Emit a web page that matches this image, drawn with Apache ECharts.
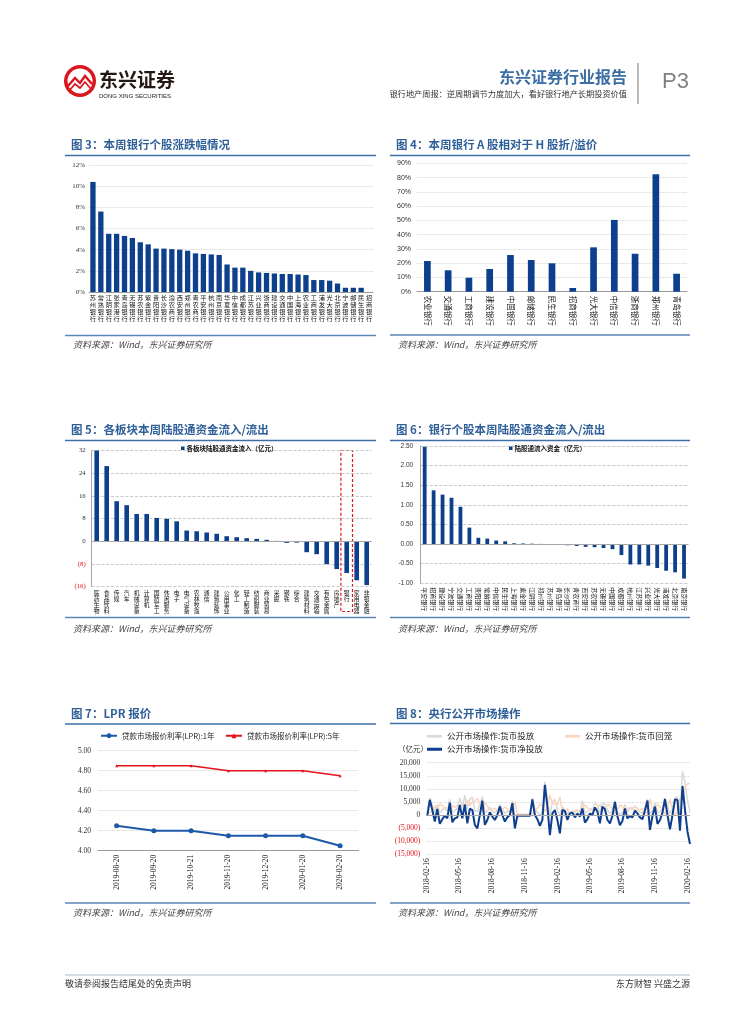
<!DOCTYPE html>
<html><head><meta charset="utf-8">
<script src="https://cdn.jsdelivr.net/npm/echarts@6/dist/echarts.min.js"></script>
<style>html,body{margin:0;padding:0;background:#fff}#c{width:755px;height:1024px}</style>
</head><body><div id="c"></div>
<script>
// ---------- DATA ----------
const fig3Banks = ['苏州银行','常熟银行','江阴银行','张家港行','青岛银行','无锡银行','苏农银行','紫金银行','贵阳银行','长沙银行','渝农商行','西安银行','郑州银行','青农商行','平安银行','杭州银行','南京银行','华夏银行','中信银行','成都银行','江苏银行','兴业银行','浙商银行','建设银行','交通银行','中国银行','上海银行','农业银行','工商银行','浦发银行','光大银行','北京银行','宁波银行','邮储银行','民生银行','招商银行'];
const fig3Change = [10.4,7.6,5.5,5.5,5.3,5.1,4.7,4.5,4.1,4.1,4.05,4.0,3.9,3.65,3.6,3.55,3.5,2.6,2.3,2.3,2.0,1.85,1.8,1.75,1.7,1.7,1.65,1.6,1.13,1.13,1.07,0.8,0.4,0.4,0.4,0];
const fig3Ticks = [0,2,4,6,8,10,12];

const fig4Banks = ['农业银行','交通银行','工商银行','建设银行','中国银行','邮储银行','民生银行','招商银行','光大银行','中信银行','浙商银行','郑州银行','青岛银行'];
const fig4Premium = [21.5,15.0,9.8,15.9,25.7,22.2,19.9,2.6,31.1,50.3,26.6,82.3,12.6];

const fig5Sectors = ['医药生物','食品饮料','传媒','汽车','机械设备','计算机','国防军工','休闲服务','电子','电气设备','农林牧渔','通信','建筑装饰','公用事业','化工','轻工制造','纺织服装','商业贸易','采掘','钢铁','综合','建筑材料','交通运输','有色金属','房地产','银行','家用电器','非银金融'];
const fig5Flow = [32.6,26.5,14.1,12.7,9.6,9.6,8.2,7.9,7.0,3.75,3.5,3.05,2.6,1.75,1.4,1.05,0.8,0.47,0.1,-0.6,-0.5,-3.9,-4.6,-8.1,-9.85,-11.25,-13.8,-15.5];
const fig5Highlight = '银行';

const fig6Banks = ['平安银行','招商银行','建设银行','宁波银行','交通银行','工商银行','贵阳银行','常熟银行','中信银行','民生银行','上海银行','紫金银行','江阴银行','郑州银行','苏州银行','青岛银行','长沙银行','青农商行','西安银行','苏农银行','无锡银行','中国银行','成都银行','杭州银行','江苏银行','兴业银行','光大银行','浦发银行','北京银行','南京银行'];
const fig6Flow = [2.48,1.37,1.26,1.18,0.95,0.42,0.16,0.14,0.09,0.07,0.02,0.015,0.01,0.004,-0.01,-0.02,-0.03,-0.05,-0.07,-0.08,-0.1,-0.13,-0.28,-0.52,-0.52,-0.55,-0.61,-0.68,-0.72,-0.88];

const fig7Dates = ['2019-08-20','2019-09-20','2019-10-21','2019-11-20','2019-12-20','2020-01-20','2020-02-20'];
const fig7LPR1Y = [4.25,4.20,4.20,4.15,4.15,4.15,4.05];
const fig7LPR5Y = [4.85,4.85,4.85,4.80,4.80,4.80,4.75];

const fig8FirstWeek = [2018, 2, 16]; // weekly observations from this Friday
const fig8TickLabels = ['2018-02-16','2018-05-16','2018-08-16','2018-11-16','2019-02-16','2019-05-16','2019-08-16','2019-11-16','2020-02-16'];
const fig8Net = [-300,5800,1900,-2500,2300,-3400,-1600,-300,-1300,4700,
-2800,-1300,-900,3800,-1300,4000,-3200,2400,1900,-3800,
-5100,0,5500,-3800,-1900,1000,-600,-1900,0,3200,
0,-2500,-900,0,4500,-5100,-300,-300,-300,-300,
-300,-300,6000,0,-1600,-4200,-1900,11500,3200,-7700,
600,1900,-1900,-7000,1900,1500,-1900,600,900,-900,
600,-600,2500,-2900,-1600,600,0,2900,1300,-3200,
3200,2200,-1900,-3200,-400,5000,-600,-3900,-2200,2500,
-1300,-400,-900,1700,600,-900,-1600,1700,5500,-5700,
-400,3200,-3400,-1900,900,6100,0,-5500,0,6000,
5700,-6000,11100,1900,-6400,-11100];
const fig8Inject = [1200,6500,3500,1000,4000,800,2000,2500,1500,6000,
1000,1700,2600,6500,3000,7600,2500,6000,6800,1500,
1300,4000,7000,1000,1600,3000,1400,800,1500,4000,
2000,600,1500,1000,5500,0,0,0,0,0,
0,0,6500,2000,1000,0,1500,12800,6000,0,
5000,6000,2000,0,3000,2000,500,1200,1500,600,
2000,1000,5500,1000,1200,2400,2000,4500,3800,800,
4500,4000,2000,500,1800,5500,1500,0,1000,4000,
1000,2500,2000,3500,2500,1000,800,3000,6000,500,
1500,4500,800,1200,2500,6500,3000,500,2500,6300,
7000,500,16800,12500,5500,1000];
const fig8Withdraw = [1500,700,1600,3500,1700,4200,3600,2800,2800,1300,
3800,3000,3500,2700,4300,3600,5700,3600,4900,5300,
6400,4000,1500,4800,3500,2000,2000,2700,1500,800,
2000,3100,2400,1000,1000,5100,300,300,300,300,
300,300,500,2000,2600,4200,3400,1300,2800,7700,
4400,4100,3900,7000,1100,500,2400,600,600,1500,
1400,1600,3000,3900,2800,1800,2000,1600,2500,4000,
1300,1800,3900,3700,2200,500,2100,3900,3200,1500,
2300,2900,2900,1800,1900,1900,2400,1300,500,6200,
1900,1300,4200,3100,1600,400,3000,6000,2500,300,
1300,6500,5700,10600,11900,12100];

// ---------- HELPERS ----------
const CJK = '"Noto Sans CJK SC", "Noto Sans", sans-serif';
const SERIF = '"Liberation Serif", "DejaVu Serif", serif';
const SANS = '"Liberation Sans", Arial, sans-serif';
const BAR = '#0c3f8c';
const TITLE = '#2f5f98';

function parseYMD(s){ const p = s.split('-').map(Number); return new Date(p[0], p[1]-1, p[2]).getTime(); }
function ymd(t){ const d = new Date(t); const z = n => (n<10?'0':'')+n; return d.getFullYear()+'-'+z(d.getMonth()+1)+'-'+z(d.getDate()); }
const fig8Dates = fig8Net.map((_, i) => new Date(fig8FirstWeek[0], fig8FirstWeek[1]-1, fig8FirstWeek[2] + 7*i).getTime());
const fig8TickValues = fig8TickLabels.map(parseYMD);

function txt(x, y, text, font, fill, align, va){
  return {type:'text', x:x, y:y, silent:true, style:{text:text, font:font, fill:fill, align:align||'left', verticalAlign:va||'middle'}};
}
function ln(x1, y1, x2, y2, color, w){
  return {type:'line', silent:true, shape:{x1:x1,y1:y1,x2:x2,y2:y2}, style:{stroke:color, lineWidth:w}};
}
const stack = v => v.split('').join('\n');
const paren = v => v < 0 ? '(' + (-v) + ')' : String(v);
const thousands = n => String(n).replace(/\B(?=(\d{3})+(?!\d))/g, ',');

// ---------- PAGE FURNITURE ----------
const graphics = [];
graphics.push({type:'circle', silent:true, shape:{cx:80, cy:81, r:16}, style:{fill:'#d9161c'}});
graphics.push({type:'circle', silent:true, shape:{cx:80, cy:81, r:12.5}, style:{fill:'#fff'}});
graphics.push({type:'polyline', silent:true, shape:{points:[[68,86],[75,78],[80,83],[85,76],[92,84]]}, style:{stroke:'#d9161c', lineWidth:2.4, fill:null}});
graphics.push({type:'polyline', silent:true, shape:{points:[[69,91],[75,84],[80,88],[85,82],[91,89]]}, style:{stroke:'#d9161c', lineWidth:1.7, fill:null}});
graphics.push(txt(99, 80, '东兴证券', 'bold 19px ' + CJK, '#231815'));
graphics.push(txt(99, 96, 'DONG XING SECURITIES', '6px ' + SANS, '#231815'));
graphics.push(txt(627, 77, '东兴证券行业报告', 'bold 16px ' + CJK, '#3a6ea5', 'right'));
graphics.push(txt(627, 94, '银行地产周报：逆周期调节力度加大，看好银行地产长期投资价值', '8.2px ' + CJK, '#333', 'right'));
graphics.push(ln(638, 63, 638, 104, '#a0a0a0', 1.5));
graphics.push(txt(662, 82, 'P3', '22px ' + SANS, '#808080'));

const blocks = [
  {x0:65, x1:376, tx:71, ty:145, top:155.5, bot:335.5, sy:345, title:'图 3：本周银行个股涨跌幅情况'},
  {x0:390, x1:690, tx:396, ty:145, top:155.5, bot:335, sy:345, title:'图 4：本周银行 A 股相对于 H 股折/溢价'},
  {x0:65, x1:376, tx:71, ty:430, top:440.5, bot:617.5, sy:629, title:'图 5：各板块本周陆股通资金流入/流出'},
  {x0:390, x1:690, tx:396, ty:430, top:440.5, bot:617.5, sy:629, title:'图 6：银行个股本周陆股通资金流入/流出'},
  {x0:65, x1:376, tx:71, ty:713.5, top:724, bot:903, sy:913, title:'图 7：LPR 报价'},
  {x0:390, x1:690, tx:396, ty:713.5, top:723.5, bot:903, sy:913, title:'图 8：央行公开市场操作'}
];
blocks.forEach(b => {
  graphics.push(txt(b.tx, b.ty, b.title, 'bold 11.5px ' + CJK, TITLE));
  graphics.push(ln(b.x0, b.top, b.x1, b.top, '#3e6fa6', 1.6));
  graphics.push(ln(b.x0, b.bot, b.x1, b.bot, '#5b86b8', 1.6));
  graphics.push(txt(b.tx + 2, b.sy, '资料来源：Wind，东兴证券研究所', 'italic 9px ' + CJK, '#444'));
});
graphics.push(txt(398, 749, '（亿元）', '7.5px ' + CJK, '#333'));
graphics.push(ln(65, 975, 690, 975, '#9aa9bd', 0.8));
graphics.push(txt(65, 984, '敬请参阅报告结尾处的免责声明', '9px ' + CJK, '#333'));
graphics.push(txt(690, 984, '东方财智 兴盛之源', '9px ' + CJK, '#333', 'right'));

// ---------- AXES ----------
const dotted = {lineStyle:{type:'dotted', color:'#c8c8c8', width:0.8}};
const dashed = {lineStyle:{type:'dashed', color:'#bdbdbd', width:0.8}};
const zeroLine = {silent:true, symbol:'none', label:{show:false}, lineStyle:{color:'#a6a6a6', type:'solid', width:1}, data:[{yAxis:0}]};

const option = {
  animation:false,
  backgroundColor:'#fff',
  grid:[
    {left:89, top:165, width:284, height:127},
    {left:417, top:163.3, width:270, height:128.4},
    {left:91.7, top:450.5, width:280, height:136},
    {left:420.2, top:446, width:268.3, height:137.3},
    {left:98, top:750.7, width:260.7, height:100},
    {left:427.3, top:762.7, width:262.7, height:91.5}
  ],
  legend:[
    {left:181, top:445, padding:0, itemWidth:3.5, itemHeight:3.5, itemGap:0, icon:'rect', data:['各板块陆股通资金流入（亿元）'], textStyle:{fontSize:6.5, fontWeight:'bold', fontFamily:CJK, color:'#111', padding:[0,0,0,-3]}},
    {left:509, top:445, padding:0, itemWidth:3.5, itemHeight:3.5, itemGap:0, icon:'rect', data:['陆股通流入资金（亿元）'], textStyle:{fontSize:6.5, fontWeight:'bold', fontFamily:CJK, color:'#111', padding:[0,0,0,-3]}},
    {left:100, top:732, padding:0, itemWidth:16, itemHeight:6, data:['贷款市场报价利率(LPR):1年'], textStyle:{fontSize:7.5, fontFamily:CJK, color:'#222'}},
    {left:225, top:732, padding:0, itemWidth:16, itemHeight:6, data:['贷款市场报价利率(LPR):5年'], textStyle:{fontSize:7.5, fontFamily:CJK, color:'#222'}},
    {left:427, top:732, padding:0, itemWidth:15, itemHeight:2.6, icon:'rect', data:['公开市场操作:货币投放'], textStyle:{fontSize:8.5, fontFamily:CJK, color:'#222'}},
    {left:565, top:732, padding:0, itemWidth:15, itemHeight:2.6, icon:'rect', data:['公开市场操作:货币回笼'], textStyle:{fontSize:8.5, fontFamily:CJK, color:'#222'}},
    {left:427, top:745, padding:0, itemWidth:15, itemHeight:3, icon:'rect', data:['公开市场操作:货币净投放'], textStyle:{fontSize:8.5, fontFamily:CJK, color:'#222'}}
  ],
  xAxis:[
    {gridIndex:0, type:'category', data:fig3Banks, axisTick:{show:false}, axisLine:{lineStyle:{color:'#9a9a9a'}},
      axisLabel:{interval:0, formatter:stack, fontSize:6.2, lineHeight:7.1, fontFamily:CJK, color:'#111', margin:2, verticalAlign:'top'}},
    {gridIndex:1, type:'category', data:fig4Banks, axisTick:{show:false}, axisLine:{lineStyle:{color:'#9a9a9a'}},
      axisLabel:{interval:0, rotate:-90, fontSize:7.5, fontFamily:CJK, color:'#111', margin:4}},
    {gridIndex:2, type:'category', data:fig5Sectors, axisTick:{show:false}, axisLine:{show:false, onZero:false},
      axisLabel:{interval:0, formatter:stack, fontSize:5.8, lineHeight:6.2, fontFamily:CJK, color:'#111', margin:3, verticalAlign:'top'}},
    {gridIndex:3, type:'category', data:fig6Banks, axisTick:{show:false}, axisLine:{show:false, onZero:false},
      axisLabel:{interval:0, rotate:-90, fontSize:6, fontFamily:CJK, color:'#111', margin:4}},
    {gridIndex:4, type:'category', data:fig7Dates, boundaryGap:true, axisTick:{show:false}, axisLine:{lineStyle:{color:'#9a9a9a'}},
      axisLabel:{interval:0, rotate:90, fontSize:7.5, fontFamily:SERIF, color:'#111', margin:4}},
    {gridIndex:5, type:'value', min:fig8Dates[0], max:fig8Dates[fig8Dates.length-1], axisLine:{show:false, onZero:false},
      axisTick:{show:false, customValues:fig8TickValues}, splitLine:{show:false},
      axisLabel:{customValues:fig8TickValues, rotate:90, fontSize:7.5, fontFamily:SERIF, color:'#111', margin:4, formatter:v => ymd(v), showMinLabel:true, showMaxLabel:true}}
  ],
  yAxis:[
    {gridIndex:0, type:'value', min:fig3Ticks[0], max:fig3Ticks[fig3Ticks.length-1], interval:2, axisLine:{show:false}, axisTick:{show:false}, splitLine:dotted,
      axisLabel:{formatter:'{value}%', fontSize:7, fontFamily:SERIF, color:'#333', margin:4}},
    {gridIndex:1, type:'value', min:0, max:90, interval:10, axisLine:{show:false}, axisTick:{show:false}, splitLine:dotted,
      axisLabel:{formatter:'{value}%', fontSize:7, fontFamily:SANS, color:'#333', margin:6}},
    {gridIndex:2, type:'value', min:-16, max:32, interval:8, axisLine:{show:true, lineStyle:{color:'#a6a6a6'}}, axisTick:{show:false}, splitLine:dashed,
      axisLabel:{formatter:paren, color:v => (v < 0 ? '#e0161c' : '#333'), fontSize:6.8, fontFamily:SERIF, margin:6}},
    {gridIndex:3, type:'value', min:-1, max:2.5, interval:0.5, axisLine:{show:true, lineStyle:{color:'#a6a6a6'}}, axisTick:{show:false}, splitLine:dashed,
      axisLabel:{formatter:v => v.toFixed(2), fontSize:6.5, fontFamily:SANS, color:'#333', margin:7}},
    {gridIndex:4, type:'value', min:4, max:5, interval:0.2, axisLine:{show:false}, axisTick:{show:false}, splitLine:dotted,
      axisLabel:{formatter:v => v.toFixed(2), fontSize:7.5, fontFamily:SERIF, color:'#333', margin:7}},
    {gridIndex:5, type:'value', min:-15000, max:20000, interval:5000, axisLine:{show:false}, axisTick:{show:false}, splitLine:dotted,
      axisLabel:{formatter:v => v < 0 ? '(' + thousands(-v) + ')' : thousands(v), color:v => (v < 0 ? '#e0161c' : '#333'), fontSize:7.5, fontFamily:SERIF, margin:7}}
  ],
  series:[
    {type:'bar', xAxisIndex:0, yAxisIndex:0, data:fig3Change, barWidth:5.3, itemStyle:{color:BAR}},
    {type:'bar', xAxisIndex:1, yAxisIndex:1, data:fig4Premium, barWidth:6.7, itemStyle:{color:BAR}},
    {type:'bar', name:'各板块陆股通资金流入（亿元）', xAxisIndex:2, yAxisIndex:2, data:fig5Flow, barWidth:4.6, itemStyle:{color:BAR}, markLine:zeroLine},
    {type:'bar', name:'陆股通流入资金（亿元）', xAxisIndex:3, yAxisIndex:3, data:fig6Flow, barWidth:3.8, itemStyle:{color:BAR}, markLine:zeroLine},
    {type:'line', name:'贷款市场报价利率(LPR):1年', xAxisIndex:4, yAxisIndex:4, data:fig7LPR1Y, symbol:'circle', symbolSize:5, lineStyle:{color:'#1d59a6', width:2}, itemStyle:{color:'#1d59a6'}},
    {type:'line', name:'贷款市场报价利率(LPR):5年', xAxisIndex:4, yAxisIndex:4, data:fig7LPR5Y, symbol:'triangle', symbolSize:3, lineStyle:{color:'#e3131b', width:1.6}, itemStyle:{color:'#e3131b'}},
    {type:'line', name:'公开市场操作:货币投放', xAxisIndex:5, yAxisIndex:5, data:fig8Inject.map((v,i) => [fig8Dates[i], v]), symbol:'none', lineStyle:{color:'#d9d9d9', width:1.5}, itemStyle:{color:'#d9d9d9'}},
    {type:'line', name:'公开市场操作:货币回笼', xAxisIndex:5, yAxisIndex:5, data:fig8Withdraw.map((v,i) => [fig8Dates[i], v]), symbol:'none', lineStyle:{color:'#fbd6bd', width:1.5}, itemStyle:{color:'#fbd6bd'}},
    {type:'line', name:'公开市场操作:货币净投放', xAxisIndex:5, yAxisIndex:5, data:fig8Net.map((v,i) => [fig8Dates[i], v]), symbol:'none', lineStyle:{color:'#0e3f8f', width:2}, itemStyle:{color:'#0e3f8f'},
      markLine:zeroLine}
  ],
  graphic:{elements:graphics}
};

const chart = echarts.init(document.getElementById('c'), null, {renderer:'canvas'});
chart.setOption(option);

const cx = chart.convertToPixel({xAxisIndex:2}, fig5Highlight);
const yTop = chart.convertToPixel({yAxisIndex:2}, 32);
const yBot = chart.convertToPixel({yAxisIndex:2}, -16);
chart.setOption({graphic:{elements:[{id:'hlbox', type:'rect', silent:true, shape:{x:cx-5.8, y:yTop, width:11.6, height:(yBot - yTop) + 25}, style:{fill:null, stroke:'#e0161c', lineWidth:1.2, lineDash:[3,2]}}]}});
</script>
</body></html>
